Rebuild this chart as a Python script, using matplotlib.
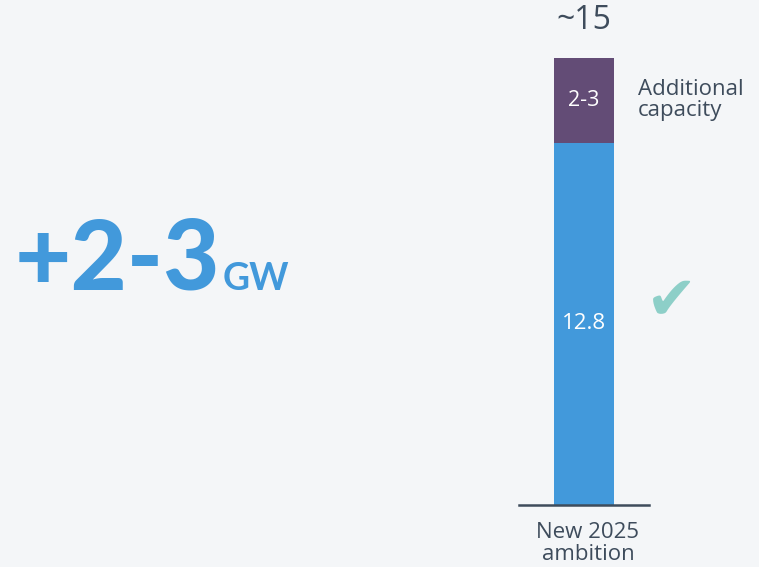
import matplotlib
matplotlib.use("Agg")
import matplotlib.pyplot as plt
import matplotlib.transforms as mtransforms

categories = ["New 2025\nambition"]
base_values = [12.8]
additional_values = [3.0]
base_labels = ["12.8"]
additional_labels = ["2-3"]
total_label = "~15"
headline = "+2-3"
headline_unit = "GW"
side_label = "Additional\ncapacity"

BG = "#F4F6F8"
BLUE = "#4299DB"
PURPLE = "#634C76"
DARK = "#3E4C5C"
TEAL = "#8DCFC8"
FONT = ["Open Sans", "DejaVu Sans"]
HFONT = ["Lato", "DejaVu Sans"]

fig = plt.figure(figsize=(7.59, 5.67), dpi=100, facecolor=BG)
W, H = 759, 567
ax = fig.add_axes([519 / W, (H - 505) / H, 130 / W, (505 - 52.2) / H])
ax.set_facecolor(BG)
ax.patch.set_alpha(0)

x = list(range(len(categories)))
b1 = ax.bar(x, base_values, width=0.908, color=BLUE, zorder=2)
b2 = ax.bar(x, additional_values, bottom=base_values, width=0.908, color=PURPLE, zorder=2)
ax.set_xlim(-1, 1)
ax.set_ylim(0, 16)
for s in ["top", "right", "left"]:
    ax.spines[s].set_visible(False)
ax.spines["bottom"].set_color(DARK)
ax.spines["bottom"].set_linewidth(1.8)
ax.set_yticks([])
ax.set_xticks(x)
ax.set_xticklabels(categories, fontsize=16, color=DARK, family=FONT, linespacing=1.1)
ax.tick_params(axis="x", length=0, pad=12)
offset = mtransforms.ScaledTranslation(4 / 100, 0, fig.dpi_scale_trans)
for lbl in ax.get_xticklabels():
    lbl.set_transform(lbl.get_transform() + offset)

for i in x:
    ax.text(i, base_values[i] / 2, base_labels[i], ha="center", va="center",
            color="white", fontsize=16, family=FONT)
    ax.text(i, base_values[i] + additional_values[i] / 2, additional_labels[i],
            ha="center", va="center", color="white", fontsize=15.5, family=FONT)
    ax.annotate(total_label, (i, base_values[i] + additional_values[i]),
                xytext=(0, 21), textcoords="offset points", ha="center", va="baseline",
                fontsize=23, color=DARK, family=FONT, annotation_clip=False)

fig.text(638 / W, (H - 100) / H, side_label, ha="left", va="center",
         fontsize=16, color=DARK, family=FONT, linespacing=0.95)

fig.text(672 / W, (H - 303) / H, "\u2714", ha="center", va="center",
         fontsize=44, color=TEAL, family=["DejaVu Sans"])

t = fig.text(15 / W, (H - 290) / H, headline, ha="left", va="baseline",
             fontsize=70, fontweight="black", color=BLUE, family=HFONT)
fig.canvas.draw()
bb = t.get_window_extent()
fig.text((bb.x1 + 2) / W, (H - 290) / H, headline_unit, ha="left", va="baseline",
         fontsize=27, fontweight="bold", color=BLUE, family=HFONT)

fig.savefig("out.png", dpi=100, facecolor=BG)
